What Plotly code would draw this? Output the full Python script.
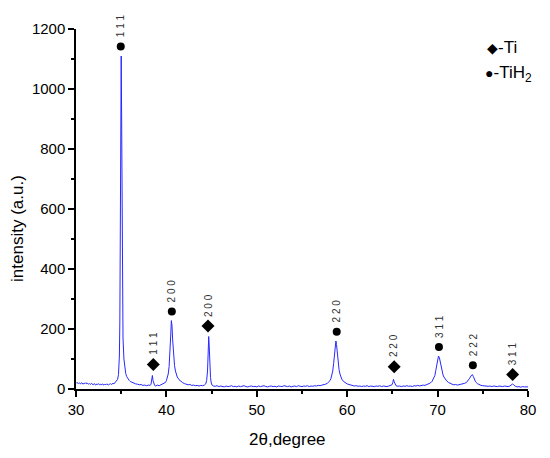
import plotly.graph_objects as go

# XRD pattern (2theta in degrees, intensity in a.u.)
two_theta = [
    30.0, 30.1, 30.2, 30.3, 30.4, 30.5, 30.6, 30.7, 30.8, 30.9,
    31.0, 31.1, 31.2, 31.3, 31.4, 31.5, 31.6, 31.7, 31.8, 31.9,
    32.0, 32.1, 32.2, 32.3, 32.4, 32.5, 32.6, 32.7, 32.8, 32.9,
    33.0, 33.1, 33.2, 33.3, 33.4, 33.5, 33.6, 33.7, 33.8, 33.9,
    34.0, 34.1, 34.2, 34.3, 34.4, 34.5, 34.6, 34.7, 34.8, 34.85,
    34.9, 34.95, 35.0, 35.05, 35.1, 35.15, 35.2, 35.3, 35.4, 35.5,
    35.6, 35.7, 35.8, 35.9, 36.0, 36.2, 36.4, 36.6, 36.8, 37.0,
    37.2, 37.4, 37.6, 37.8, 38.0, 38.2, 38.3, 38.38, 38.45, 38.52,
    38.6, 38.7, 38.8, 39.0, 39.2, 39.4, 39.6, 39.8, 39.9, 40.0,
    40.1, 40.2, 40.3, 40.4, 40.48, 40.55, 40.62, 40.7, 40.8, 40.9,
    41.0, 41.1, 41.2, 41.4, 41.6, 41.8, 42.0, 42.2, 42.4, 42.6,
    42.8, 43.0, 43.2, 43.4, 43.6, 43.8, 44.0, 44.2, 44.35, 44.45,
    44.55, 44.62, 44.68, 44.74, 44.8, 44.88, 44.96, 45.05, 45.2, 45.4,
    45.6, 45.8, 46.0, 46.2, 46.4, 46.6, 46.8, 47.0, 47.2, 47.4,
    47.6, 47.8, 48.0, 48.2, 48.4, 48.6, 48.8, 49.0, 49.2, 49.4,
    49.6, 49.8, 50.0, 50.2, 50.4, 50.6, 50.8, 51.0, 51.2, 51.4,
    51.6, 51.8, 52.0, 52.2, 52.4, 52.6, 52.8, 53.0, 53.2, 53.4,
    53.6, 53.8, 54.0, 54.2, 54.4, 54.6, 54.8, 55.0, 55.2, 55.4,
    55.6, 55.8, 56.0, 56.2, 56.4, 56.6, 56.8, 57.0, 57.2, 57.4,
    57.6, 57.8, 58.0, 58.1, 58.2, 58.3, 58.4, 58.5, 58.6, 58.68,
    58.75, 58.82, 58.9, 59.0, 59.1, 59.2, 59.3, 59.4, 59.6, 59.8,
    60.0, 60.2, 60.4, 60.6, 60.8, 61.0, 61.2, 61.4, 61.6, 61.8,
    62.0, 62.2, 62.4, 62.6, 62.8, 63.0, 63.2, 63.4, 63.6, 63.8,
    64.0, 64.2, 64.4, 64.6, 64.8, 64.95, 65.05, 65.12, 65.2, 65.3,
    65.4, 65.6, 65.8, 66.0, 66.2, 66.4, 66.6, 66.8, 67.0, 67.2,
    67.4, 67.6, 67.8, 68.0, 68.2, 68.4, 68.6, 68.8, 69.0, 69.2,
    69.4, 69.6, 69.7, 69.8, 69.9, 70.0, 70.1, 70.2, 70.3, 70.4,
    70.5, 70.6, 70.7, 70.8, 71.0, 71.2, 71.4, 71.6, 71.8, 72.0,
    72.2, 72.4, 72.6, 72.8, 73.0, 73.2, 73.4, 73.55, 73.7, 73.85,
    73.95, 74.05, 74.2, 74.4, 74.6, 74.8, 75.0, 75.2, 75.4, 75.6,
    75.8, 76.0, 76.2, 76.4, 76.6, 76.8, 77.0, 77.2, 77.4, 77.6,
    77.8, 78.0, 78.1, 78.2, 78.3, 78.4, 78.5, 78.6, 78.8, 79.0,
    79.2, 79.4, 79.6, 79.8, 80.0,
]
intensity = [
    22, 19, 21, 18, 20, 17, 21, 19, 16, 20,
    18, 21, 17, 19, 16, 18, 15, 19, 17, 14,
    18, 16, 13, 17, 15, 18, 14, 16, 13, 17,
    15, 13, 16, 14, 17, 15, 13, 16, 18, 15,
    17, 19, 17, 20, 23, 26, 32, 48, 110, 220,
    450, 800, 1110, 900, 520, 280, 170, 100, 68, 52,
    42, 36, 31, 28, 25, 22, 19, 17, 16, 14,
    15, 12, 13, 11, 13, 12, 16, 28, 45, 28,
    16, 12, 10, 13, 11, 14, 16, 19, 22, 28,
    36, 50, 75, 120, 180, 228, 210, 160, 110, 78,
    60, 48, 40, 31, 25, 21, 18, 16, 14, 15,
    12, 13, 11, 12, 10, 12, 11, 13, 17, 28,
    60, 120, 175, 140, 80, 38, 20, 13, 10, 9,
    11, 8, 10, 9, 7, 10, 8, 9, 11, 8,
    9, 7, 10, 8, 9, 11, 8, 7, 9, 10,
    8, 9, 7, 10, 8, 9, 11, 8, 7, 9,
    10, 8, 9, 7, 10, 9, 8, 11, 9, 8,
    10, 7, 9, 10, 8, 11, 9, 8, 10, 9,
    11, 8, 10, 9, 11, 10, 12, 11, 13, 14,
    16, 19, 24, 28, 35, 45, 60, 85, 120, 150,
    160, 148, 120, 90, 65, 50, 40, 33, 25, 20,
    17, 15, 13, 12, 10, 11, 9, 10, 8, 10,
    9, 11, 8, 10, 9, 8, 10, 9, 11, 8,
    10, 9, 8, 10, 11, 14, 22, 32, 24, 15,
    11, 9, 10, 8, 10, 9, 11, 9, 10, 8,
    11, 10, 12, 10, 12, 13, 12, 15, 17, 20,
    26, 36, 45, 62, 82, 100, 110, 104, 88, 72,
    58, 47, 40, 34, 27, 22, 18, 16, 14, 15,
    13, 14, 15, 17, 19, 22, 28, 36, 44, 48,
    42, 32, 24, 18, 14, 12, 11, 10, 11, 9,
    10, 8, 10, 9, 8, 10, 9, 8, 10, 9,
    8, 10, 12, 15, 17, 14, 10, 9, 7, 8,
    6, 8, 7, 6, 7,
]

# phase markers and Miller indices
ti_pos = [38.55, 44.6, 65.2, 78.3]
ti_mark = [82, 210, 74, 48]
ti_hkl = ["111", "200", "220", "311"]

tih2_pos = [34.95, 40.6, 58.84, 70.15, 73.9]
tih2_mark = [1142, 258, 191, 140, 79]
tih2_hkl = ["111", "200", "220", "311", "222"]

FONT = "Liberation Sans, Arial, sans-serif"

fig = go.Figure()
fig.add_trace(go.Scatter(
    x=two_theta, y=intensity, mode="lines",
    line=dict(color="rgb(40,40,255)", width=1),
    hoverinfo="skip",
))
fig.add_trace(go.Scatter(
    x=ti_pos, y=ti_mark, mode="markers",
    marker=dict(symbol="diamond", size=10, color="black"),
))
fig.add_trace(go.Scatter(
    x=tih2_pos, y=tih2_mark, mode="markers",
    marker=dict(symbol="circle", size=8, color="black"),
))

annotations = []
for pos, mark, hkl in zip(ti_pos + tih2_pos, ti_mark + tih2_mark, ti_hkl + tih2_hkl):
    annotations.append(dict(
        x=pos, y=mark, xref="x", yref="y", text=" ".join(hkl),
        showarrow=False, textangle=-90, yshift=21,
        font=dict(family=FONT, size=10, color="#333333"),
    ))

annotations += [
    dict(x=-0.128, y=0.445, xref="paper", yref="paper", text="intensity (a.u.)",
         xanchor="center", yanchor="middle",
         showarrow=False, textangle=-90, font=dict(family=FONT, size=17, color="black")),
    dict(x=0.467, y=-0.14, xref="paper", yref="paper", text="2θ,degree",
         xanchor="center", yanchor="middle",
         showarrow=False, font=dict(family=FONT, size=17, color="black")),
    dict(x=0.905, y=0.95, xref="paper", yref="paper", xanchor="left", yanchor="middle",
         text="<span style='font-size:14px'>◆</span>-Ti",
         showarrow=False, font=dict(family=FONT, size=17, color="black")),
    dict(x=0.9, y=0.876, xref="paper", yref="paper", xanchor="left", yanchor="middle",
         text="<span style='font-size:14px'>●</span>-TiH<sub>2</sub>",
         showarrow=False, font=dict(family=FONT, size=17, color="black")),
]

axis_common = dict(
    showline=True, linecolor="black", linewidth=1.5, mirror=False,
    ticks="outside", ticklen=6, tickwidth=1.5, tickcolor="black",
    showgrid=False, zeroline=False,
    tickfont=dict(family=FONT, size=15, color="black"),
)

# the page body adds an 8px offset, so margins are set relative to that
fig.update_layout(
    width=550, height=458,
    margin=dict(l=68, r=30, t=13, b=77),
    paper_bgcolor="white", plot_bgcolor="white",
    showlegend=False,
    annotations=annotations,
    xaxis=dict(range=[30, 80], dtick=10, tick0=30,
               minor=dict(dtick=5, ticks="outside", ticklen=3, tickcolor="black"),
               **axis_common),
    yaxis=dict(range=[0, 1200], dtick=200, tick0=0,
               minor=dict(dtick=100, ticks="outside", ticklen=3, tickcolor="black"),
               **axis_common),
)

fig.write_html("out.html")
